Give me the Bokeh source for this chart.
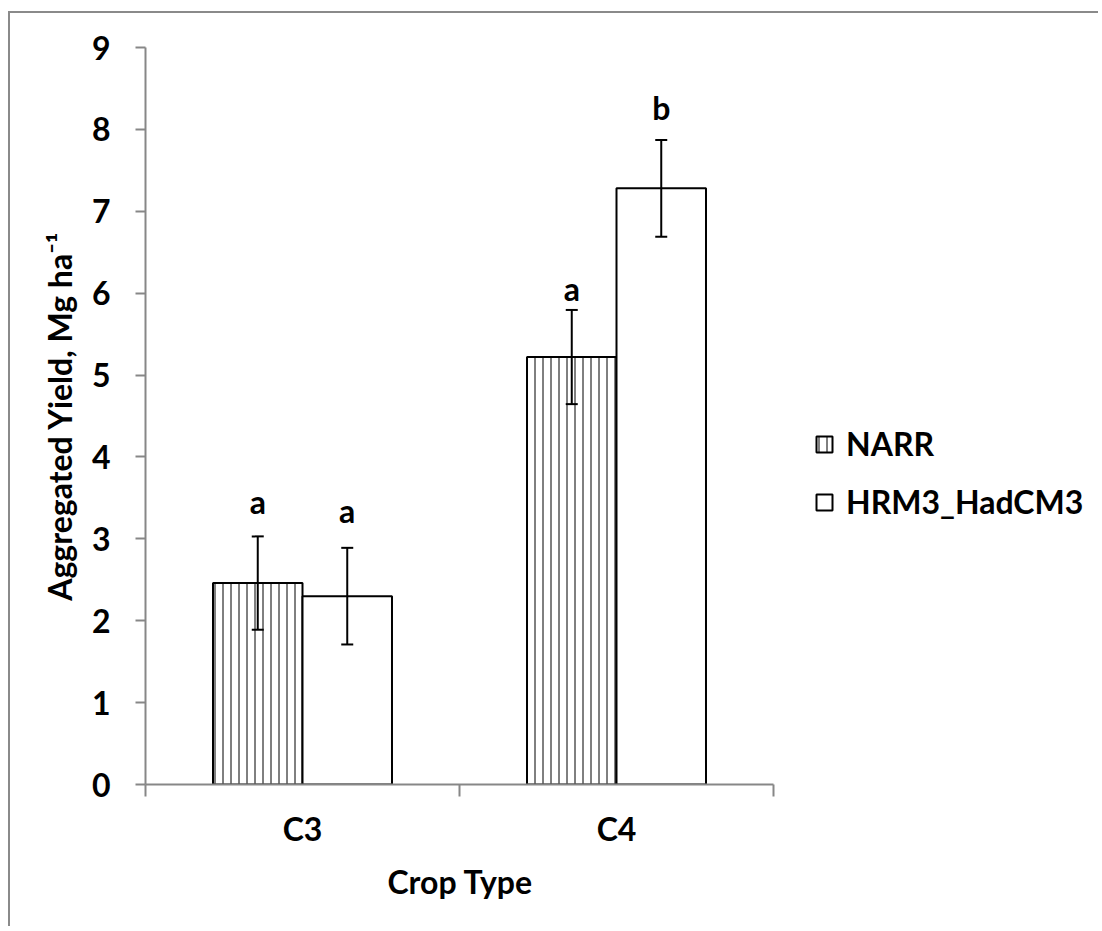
from bokeh.plotting import figure
from bokeh.models import (ColumnDataSource, Range1d, FixedTicker, Whisker, TeeHead,
                          Legend, LegendItem, Title)
from bokeh.core.properties import value
from bokeh.embed import file_html
from bokeh.resources import INLINE

# ---- data ----
categories = ["C3", "C4"]
series = ["NARR", "HRM3_HadCM3"]
narr_mean = [2.46, 5.22]
narr_err = [0.57, 0.575]
hrm_mean = [2.30, 7.28]
hrm_err = [0.59, 0.59]
narr_letters = ["a", "a"]
hrm_letters = ["a", "b"]
narr_letter_y = [3.31, 5.91]
hrm_letter_y = [3.20, 8.12]
y_ticks = [0, 1, 2, 3, 4, 5, 6, 7, 8, 9]

FONT = "Lato"
FS = "32px"
GRAY = "#878787"
BAR_W = 0.285
DODGE = 0.1425

idx = [i + 0.5 for i in range(len(categories))]

narr_src = ColumnDataSource(dict(
    x=[c - DODGE for c in idx], top=narr_mean,
    upper=[m + e for m, e in zip(narr_mean, narr_err)],
    lower=[m - e for m, e in zip(narr_mean, narr_err)],
    ly=narr_letter_y, txt=narr_letters))
hrm_src = ColumnDataSource(dict(
    x=[c + DODGE for c in idx], top=hrm_mean,
    upper=[m + e for m, e in zip(hrm_mean, hrm_err)],
    lower=[m - e for m, e in zip(hrm_mean, hrm_err)],
    ly=hrm_letter_y, txt=hrm_letters))

W, H = 1090, 915
LEFT = 135
AXIS_W = 628           # pixel length of the category axis
FRAME_W = W - LEFT
x_end = len(categories) * FRAME_W / AXIS_W

p = figure(width=W, height=H, output_backend="svg", toolbar_location=None,
           x_range=Range1d(0, x_end), y_range=Range1d(0, 9),
           min_border_left=LEFT, min_border_top=34, min_border_bottom=H - 771,
           min_border_right=0)
p.styles = {"margin-top": "11px", "margin-left": "8px",
            "border-top": "2px solid #8a8a8a", "border-left": "2px solid #8a8a8a"}
p.outline_line_color = None
p.xgrid.visible = False
p.ygrid.visible = False
p.background_fill_color = "white"
p.border_fill_color = "white"

r_narr = p.vbar(x="x", top="top", width=BAR_W, bottom=0, source=narr_src,
                fill_color="white", line_color="black", line_width=2,
                hatch_pattern="|", hatch_scale=8, hatch_weight=1, hatch_color="black")
r_hrm = p.vbar(x="x", top="top", width=BAR_W, bottom=0, source=hrm_src,
               fill_color="white", line_color="black", line_width=2)

for src in (narr_src, hrm_src):
    w = Whisker(source=src, base="x", upper="upper", lower="lower", dimension="height",
                line_color="black", line_width=2, level="overlay",
                upper_head=TeeHead(size=12, line_width=2, line_color="black"),
                lower_head=TeeHead(size=12, line_width=2, line_color="black"))
    p.add_layout(w)
    p.text(x="x", y="ly", text="txt", source=src, text_align="center",
           text_baseline="alphabetic", y_offset=-12, text_font=value(FONT),
           text_font_style="bold", text_font_size=FS, text_color="black")

# y axis
ya = p.yaxis[0]
ya.ticker = FixedTicker(ticks=y_ticks, minor_ticks=[])
ya.axis_line_color = GRAY
ya.axis_line_width = 2
ya.major_tick_line_color = GRAY
ya.major_tick_line_width = 2
ya.major_tick_out = 10
ya.major_tick_in = 0
ya.minor_tick_line_color = None
ya.major_label_standoff = 25
ya.major_label_text_font = FONT
ya.major_label_text_font_style = "bold"
ya.major_label_text_font_size = FS
ya.major_label_text_color = "black"
ya.axis_label = "Aggregated Yield, Mg ha\u207b\u00b9"
ya.axis_label_text_font = FONT
ya.axis_label_text_font_style = "bold"
ya.axis_label_text_font_size = FS
ya.axis_label_text_color = "black"
ya.axis_label_standoff = 10

# x axis
xa = p.xaxis[0]
xa.bounds = (0, len(categories))
xa.ticker = FixedTicker(ticks=idx, minor_ticks=[float(i) for i in range(len(categories) + 1)])
xa.major_label_overrides = {c: lab for c, lab in zip(idx, categories)}
xa.axis_line_color = GRAY
xa.axis_line_width = 2
xa.major_tick_line_color = None
xa.major_tick_out = 12
xa.major_tick_in = 0
xa.minor_tick_line_color = GRAY
xa.minor_tick_line_width = 2
xa.minor_tick_out = 12
xa.minor_tick_in = 0
xa.major_label_standoff = 12
xa.major_label_text_font = FONT
xa.major_label_text_font_style = "bold"
xa.major_label_text_font_size = FS
xa.major_label_text_color = "black"

xt = Title(text="Crop Type", align="left", offset=242, standoff=18,
           text_font=FONT, text_font_style="bold", text_font_size=FS,
           text_color="black")
p.add_layout(xt, "below")

legend = Legend(items=[LegendItem(label=series[0], renderers=[r_narr]),
                       LegendItem(label=series[1], renderers=[r_hrm])],
                location=(669, 263), border_line_color=None, background_fill_alpha=0,
                glyph_width=20, glyph_height=20, label_height=30, spacing=19,
                label_standoff=12, padding=0, margin=0,
                label_text_font=FONT, label_text_font_style="bold",
                label_text_font_size=FS, label_text_color="black")
p.add_layout(legend)

open("out.html", "w").write(file_html(p, INLINE))
